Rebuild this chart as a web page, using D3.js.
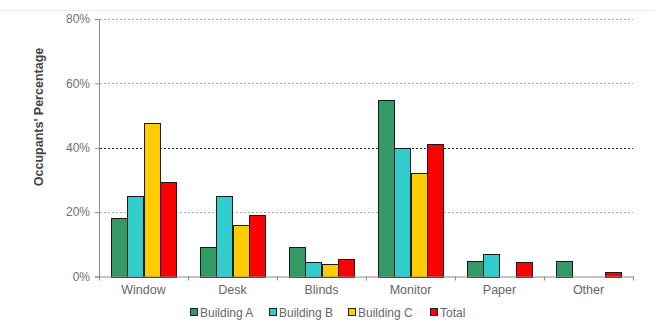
<!DOCTYPE html>
<html>
<head>
<meta charset="utf-8">
<script src="https://cdn.jsdelivr.net/npm/d3@7"></script>
<style>
  html, body { margin: 0; padding: 0; background: #fff; }
  svg { display: block; font-family: Arial, "Liberation Sans", sans-serif; }
</style>
</head>
<body>
<svg id="chart" width="655" height="327"></svg>
<script>
// Source items occupants reported adjusting, by building
const categories = ["Window", "Desk", "Blinds", "Monitor", "Paper", "Other"];
const seriesNames = ["Building A", "Building B", "Building C", "Total"];
const buildingA = [18.3, 9.3, 9.3, 54.8, 4.8, 4.8];
const buildingB = [25.0, 25.0, 4.6, 40.0, 6.9, 0];
const buildingC = [47.8, 16.0, 4.0, 32.2, 0, 0];
const total     = [29.3, 19.0, 5.4, 41.1, 4.5, 1.5];
const yTicks = [0, 20, 40, 60, 80];
const colors = ["#339966", "#33cccc", "#ffcc00", "#ff0000"];

const seriesValues = [buildingA, buildingB, buildingC, total];
const rows = categories.map((c, i) => ({
  category: c,
  values: seriesNames.map((s, j) => ({ series: s, value: seriesValues[j][i], color: colors[j] }))
}));

const svg = d3.select("#chart");
const plotLeft = 99, plotRight = 633, plotTop = 19, plotBottom = 276.5;

// faint page rule along the top
svg.append("line")
  .attr("x1", 0).attr("x2", 655).attr("y1", 10.5).attr("y2", 10.5)
  .attr("stroke", "#ececec").attr("stroke-width", 1);

const x = d3.scaleBand().domain(categories).range([plotLeft, plotRight]).paddingInner(0).paddingOuter(0);
const xInner = d3.scaleBand().domain(seriesNames)
  .range([0, x.bandwidth()]).paddingInner(0).paddingOuter(0.78);
const y = d3.scaleLinear().domain([0, 80]).range([plotBottom, plotTop]);

// dotted gridlines; the 40% rule is drawn darker
svg.append("g").selectAll("line")
  .data(yTicks.filter(t => t > 0))
  .join("line")
  .attr("x1", plotLeft + 1).attr("x2", plotRight)
  .attr("y1", d => Math.round(y(d)) + 0.5).attr("y2", d => Math.round(y(d)) + 0.5)
  .attr("stroke", d => d === 40 ? "#222" : "#a8a8a8")
  .attr("stroke-width", 1)
  .attr("stroke-dasharray", "2,2");

// bars
const groups = svg.append("g").selectAll("g")
  .data(rows)
  .join("g")
  .attr("transform", d => `translate(${x(d.category)},0)`);

groups.selectAll("rect")
  .data(d => d.values.filter(v => v.value > 0))
  .join("rect")
  .attr("x", d => Math.round(xInner(d.series)) + 0.5)
  .attr("y", d => Math.round(y(d.value)) + 0.5)
  .attr("width", Math.round(xInner.bandwidth()))
  .attr("height", d => Math.round(plotBottom) - Math.round(y(d.value)))
  .attr("fill", d => d.color)
  .attr("stroke", "#1a1a1a")
  .attr("stroke-width", 1);

// y axis
const yAxis = svg.append("g")
  .attr("transform", `translate(${plotLeft},0)`)
  .call(d3.axisLeft(y).tickValues(yTicks).tickFormat(d => d + "%").tickSize(4).tickPadding(5));
yAxis.select(".domain").attr("stroke", "#8a8a8a");
yAxis.selectAll(".tick line").attr("stroke", "#8a8a8a");
yAxis.selectAll(".tick text")
  .attr("fill", "#707070").attr("font-size", "12px")
  .attr("font-family", "Arial, 'Liberation Sans', sans-serif");

// x axis with ticks at category boundaries
const xAxis = svg.append("g")
  .attr("transform", `translate(0,${plotBottom})`)
  .call(d3.axisBottom(x).tickSize(0).tickPadding(9));
xAxis.select(".domain").attr("stroke", "#8a8a8a");
xAxis.selectAll(".tick text")
  .attr("fill", "#666").attr("font-size", "12.5px")
  .attr("font-family", "Arial, 'Liberation Sans', sans-serif");
xAxis.append("g").selectAll("line")
  .data(categories.map(c => x(c)).concat([plotRight]))
  .join("line")
  .attr("x1", d => Math.round(d) + 0.5).attr("x2", d => Math.round(d) + 0.5)
  .attr("y1", 0).attr("y2", 4)
  .attr("stroke", "#8a8a8a");

// y axis title
svg.append("text")
  .attr("transform", `translate(43,117) rotate(-90)`)
  .attr("text-anchor", "middle")
  .attr("font-size", "12.5px")
  .attr("font-weight", "bold")
  .attr("fill", "#444")
  .text("Occupants' Percentage");

// legend
const legendX = [190, 269, 348, 430];
const legend = svg.append("g").selectAll("g")
  .data(seriesNames)
  .join("g")
  .attr("transform", (d, i) => `translate(${legendX[i]},308)`);
legend.append("rect")
  .attr("x", 0.5).attr("y", 0.5).attr("width", 7).attr("height", 7)
  .attr("fill", (d, i) => colors[i])
  .attr("stroke", "#222");
legend.append("text")
  .attr("x", 10).attr("y", 8.5)
  .attr("font-size", "12px")
  .attr("fill", "#666")
  .text(d => d);
</script>
</body>
</html>
